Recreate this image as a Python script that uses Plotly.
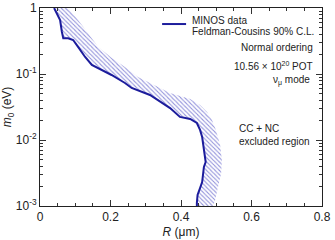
import plotly.graph_objects as go

# MINOS exclusion contour (R in um, m0 in eV)
curve_R = [0.040, 0.050, 0.057, 0.062, 0.066, 0.080, 0.094, 0.108, 0.128, 0.147, 0.175,
           0.203, 0.241, 0.260, 0.312, 0.349, 0.369, 0.397, 0.426, 0.445, 0.454, 0.460,
           0.462, 0.465, 0.470, 0.465, 0.462, 0.460, 0.454, 0.447, 0.445, 0.445]
curve_m = [1.0, 0.78, 0.658, 0.437, 0.347, 0.347, 0.327, 0.257, 0.181, 0.137, 0.115,
           0.0966, 0.0731, 0.0614, 0.0481, 0.0364, 0.0305, 0.0224, 0.0208, 0.0181, 0.0142, 0.0111,
           0.0090, 0.00635, 0.00464, 0.0039, 0.00295, 0.00231, 0.00187, 0.00147, 0.00111, 0.001]

# outer edge of the hatched (excluded side) band
band_R = [0.079, 0.108, 0.136, 0.165, 0.204, 0.241, 0.278, 0.312, 0.369, 0.426, 0.454,
          0.474, 0.488, 0.499, 0.511, 0.516, 0.514, 0.505, 0.497, 0.491]
band_m = [1.0, 0.658, 0.418, 0.257, 0.175, 0.128, 0.0901, 0.0731, 0.0515, 0.0418, 0.0339,
          0.0266, 0.0201, 0.0142, 0.0084, 0.00498, 0.00316, 0.00194, 0.00123, 0.001]

x_ticks = [0, 0.2, 0.4, 0.6, 0.8]
x_labels = ["0", "0.2", "0.4", "0.6", "0.8"]
y_ticks = [1e-3, 1e-2, 1e-1, 1]
y_labels = ["10<sup>-3</sup>", "10<sup>-2</sup>", "10<sup>-1</sup>", "1"]

LINE = "#1c1c9c"
FONT = "Liberation Sans, Arial, sans-serif"

fig = go.Figure()
fig.add_trace(go.Scatter(
    x=curve_R + band_R[::-1], y=curve_m + band_m[::-1],
    mode="none", fill="toself", fillcolor="rgba(0,0,0,0)",
    fillpattern=dict(shape="\\", fgcolor="#2828b8", bgcolor="rgba(255,255,255,0)",
                     size=3, solidity=0.35),
    hoverinfo="skip", showlegend=False))
fig.add_trace(go.Scatter(x=curve_R, y=curve_m, mode="lines",
                         line=dict(color=LINE, width=2), showlegend=False))

minor_y = [k * 10 ** e for e in (-3, -2, -1) for k in range(2, 10)]

fig.update_xaxes(range=[0, 0.8], tickvals=x_ticks, ticktext=x_labels, automargin=False,
                 ticks="inside", ticklen=6, tickcolor="#333", mirror="ticks",
                 showline=True, linecolor="#222", linewidth=1, showgrid=False, zeroline=False,
                 minor=dict(dtick=0.05, tick0=0, ticks="inside", ticklen=3, tickcolor="#333"),
                 tickfont=dict(size=12, family=FONT, color="#222"),
                 title=dict(text="<i>R</i> (μm)", font=dict(size=12, family=FONT, color="#222"),
                            standoff=4))
fig.update_yaxes(type="log", range=[-3, 0], tickvals=y_ticks, ticktext=y_labels, automargin=False,
                 ticks="inside", ticklen=6, tickcolor="#333", mirror="ticks",
                 showline=True, linecolor="#222", linewidth=1, showgrid=False, zeroline=False,
                 minor=dict(tickvals=minor_y, ticks="inside", ticklen=3, tickcolor="#333"),
                 tickfont=dict(size=12, family=FONT, color="#222"),
                 title=dict(text="<i>m</i><sub>0</sub> (eV)", font=dict(size=12, family=FONT, color="#222"),
                            standoff=2))

fig.add_shape(type="line", xref="paper", yref="paper", x0=0.433, x1=0.518, y0=0.919, y1=0.919,
              line=dict(color=LINE, width=2))

def ann(text, x, y, xanchor):
    fig.add_annotation(text=text, xref="paper", yref="paper", x=x, y=y, xanchor=xanchor,
                       yanchor="middle", showarrow=False,
                       font=dict(size=10, family=FONT, color="#222"))

ann("MINOS data", 0.532, 0.937, "left")
ann("Feldman-Cousins 90% C.L.", 0.532, 0.881, "left")
ann("Normal ordering", 0.975, 0.798, "right")
ann("10.56 × 10<sup>20</sup> POT", 0.975, 0.707, "right")
ann("ν<sub>μ</sub> mode", 0.965, 0.636, "right")
ann("CC + NC", 0.699, 0.392, "left")
ann("excluded region", 0.699, 0.326, "left")

fig.update_layout(width=335, height=240, margin=dict(l=40, r=13, t=8, b=34),
                  paper_bgcolor="white", plot_bgcolor="white", showlegend=False)
fig.write_html("out.html", config={"displayModeBar": False},
               post_script="document.body.style.margin='0';")
